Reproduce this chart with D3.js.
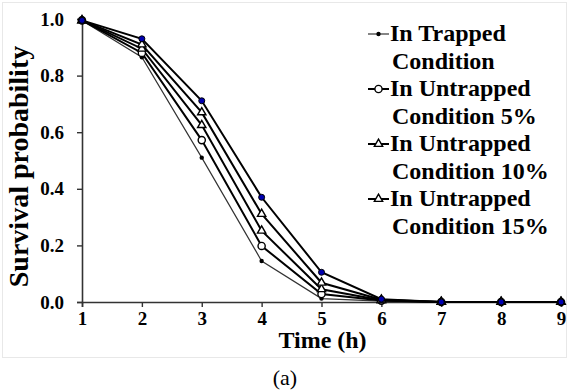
<!DOCTYPE html>
<html>
<head>
<meta charset="utf-8">
<script src="https://cdn.jsdelivr.net/npm/d3@7"></script>
<style>
  body { margin: 0; background: #fff; }
  svg { display: block; }
</style>
</head>
<body>
<svg id="chart"></svg>
<script>
var width = 569, height = 391;
var margin = ({top: 19, right: 8, bottom: 89, left: 82});

// data
var hours = [1, 2, 3, 4, 5, 6, 7, 8, 9];
var trapped   = [0.995, 0.865, 0.51, 0.145, 0.012, 0.003, 0, 0, 0];
var untrap5   = [0.995, 0.88, 0.572, 0.198, 0.028, 0.005, 0, 0, 0];
var untrap10  = [0.995, 0.895, 0.625, 0.252, 0.045, 0.006, 0, 0, 0];
var untrap15  = [0.995, 0.91, 0.67, 0.311, 0.068, 0.008, 0, 0, 0];
var untrap20  = [0.995, 0.93, 0.711, 0.37, 0.105, 0.01, 0, 0, 0];
var yTicks = [0, 0.2, 0.4, 0.6, 0.8, 1.0];
var legendLabels = [
  ["In Trapped", "Condition"],
  ["In Untrapped", "Condition 5%"],
  ["In Untrapped", "Condition 10%"],
  ["In Untrapped", "Condition 15%"]
];

var series = [
  {values: trapped,  marker: "dot",    width: 1.2, color: "#333"},
  {values: untrap5,  marker: "circle", width: 2,   color: "#000"},
  {values: untrap10, marker: "tri",    width: 2,   color: "#000"},
  {values: untrap15, marker: "tri",    width: 2,   color: "#000"},
  {values: untrap20, marker: "blue",   width: 2,   color: "#000"}
];

var FONT = "Liberation Serif";

var svg = d3.select("#chart").attr("width", width).attr("height", height);

// faint frame round the plot picture
svg.append("rect")
  .attr("x", 2.5).attr("y", 2.5).attr("width", 564).attr("height", 355)
  .attr("fill", "none").attr("stroke", "#e8e8e8");

var x = d3.scaleLinear().domain([1, 9]).range([margin.left, width - margin.right]);
var y = d3.scaleLinear().domain([0, 1]).range([height - margin.bottom, margin.top]);

// axes
var gx = svg.append("g")
  .attr("transform", `translate(0,${y(0)})`)
  .call(d3.axisBottom(x).tickValues(hours).tickSize(5).tickPadding(5).tickFormat(d3.format("d")));
var gy = svg.append("g")
  .attr("transform", `translate(${x(1)},0)`)
  .call(d3.axisLeft(y).tickValues(yTicks).tickSize(5).tickPadding(13).tickFormat(d3.format(".1f")));

[gx, gy].forEach(g => {
  g.attr("font-family", FONT).attr("font-size", 19).attr("font-weight", "bold");
  g.select(".domain").attr("stroke", "#333").attr("stroke-width", 1.6);
  g.selectAll(".tick line").attr("stroke", "#333").attr("stroke-width", 1.4);
  g.selectAll("text").attr("fill", "#000");
});

// lines
var line = d3.line()
  .x((d, i) => x(hours[i]))
  .y(d => y(d));

series.forEach(s => {
  svg.append("path")
    .datum(s.values)
    .attr("fill", "none")
    .attr("stroke", s.color)
    .attr("stroke-width", s.width)
    .attr("d", line);
});

var triangle = d3.symbol().type(d3.symbolTriangle).size(30);

function drawMarker(g, type, cx, cy) {
  if (type === "dot") {
    g.append("circle").attr("cx", cx).attr("cy", cy).attr("r", 2.2).attr("fill", "#000");
  } else if (type === "circle") {
    g.append("circle").attr("cx", cx).attr("cy", cy).attr("r", 3.6)
      .attr("fill", "#fff").attr("stroke", "#000").attr("stroke-width", 1.4);
  } else if (type === "tri") {
    g.append("path").attr("d", triangle).attr("transform", `translate(${cx},${cy})`)
      .attr("fill", "#fff").attr("stroke", "#000").attr("stroke-width", 1.4);
  } else if (type === "blue") {
    g.append("circle").attr("cx", cx).attr("cy", cy).attr("r", 3)
      .attr("fill", "#0000b0").attr("stroke", "#000").attr("stroke-width", 1);
  }
}

var marks = svg.append("g");
series.forEach(s => {
  s.values.forEach((v, i) => drawMarker(marks, s.marker, x(hours[i]), y(v)));
});

// axis titles
svg.append("text")
  .attr("x", (x(1) + x(9)) / 2 + 1)
  .attr("y", 348)
  .attr("text-anchor", "middle")
  .attr("font-family", FONT).attr("font-weight", "bold").attr("font-size", 24)
  .text("Time (h)");

svg.append("text")
  .attr("transform", `translate(28,${(y(0) + y(1)) / 2 + 6}) rotate(-90)`)
  .attr("text-anchor", "middle")
  .attr("font-family", FONT).attr("font-weight", "bold").attr("font-size", 28)
  .text("Survival probability");

// caption
svg.append("text")
  .attr("x", 285).attr("y", 385)
  .attr("text-anchor", "middle")
  .attr("font-family", FONT).attr("font-size", 22)
  .text("(a)");

// legend
var legend = svg.append("g");
legendLabels.forEach((lab, i) => {
  var base = 41 + i * 55;
  var my = base - 7;
  legend.append("line")
    .attr("x1", 368).attr("x2", 389).attr("y1", my).attr("y2", my)
    .attr("stroke", series[i].color).attr("stroke-width", series[i].width);
  drawMarker(legend, series[i].marker, 378.5, my);
  lab.forEach((t, j) => {
    legend.append("text")
      .attr("x", j === 0 ? 390 : 392)
      .attr("y", base + j * 27.5)
      .attr("font-family", FONT).attr("font-weight", "bold").attr("font-size", 24)
      .text(t);
  });
});
</script>
</body>
</html>
